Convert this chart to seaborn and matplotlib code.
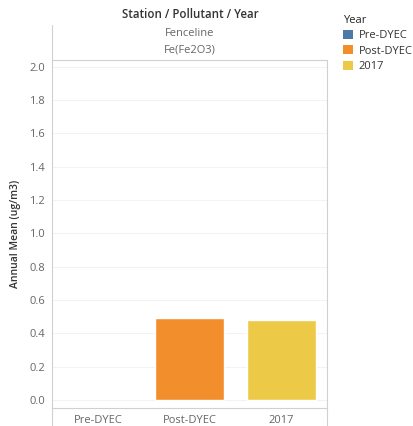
import numpy as np
import pandas as pd
import matplotlib.pyplot as plt
import seaborn as sns
from matplotlib.lines import Line2D
from matplotlib.patches import Patch

#%% DATA
years = ["Pre-DYEC", "Post-DYEC", "2017"]
annual_mean = [np.nan, 0.49, 0.48]
colors = ["#4e79a7", "#f28e2b", "#edc948"]
y_ticks = [0.0, 0.2, 0.4, 0.6, 0.8, 1.0, 1.2, 1.4, 1.6, 1.8, 2.0]

df = pd.DataFrame({"Year": years, "Annual Mean": annual_mean})

#%% PLOT
sns.set_theme(style="white")
plt.rcParams['font.family'] = ['Open Sans', 'DejaVu Sans']

W, H = 414, 426
fig = plt.figure(figsize=(W / 100, H / 100), dpi=100)
ax = fig.add_axes([52 / W, 1 - 408 / H, (327 - 52) / W, (408 - 60) / H])

sns.barplot(data=df, x="Year", y="Annual Mean", hue="Year", order=years,
            hue_order=years, palette=colors, width=0.75, legend=False,
            saturation=1, ax=ax)

ax.set_ylim(-0.048, 2.04)
ax.set_yticks(y_ticks)
ax.set_yticklabels([f"{t:.1f}" for t in y_ticks])
ax.yaxis.grid(True, color="#f3f3f3", linewidth=0.8)
ax.set_axisbelow(True)
ax.tick_params(axis="both", length=0, labelsize=8, labelcolor="#666666", pad=5)
ax.set_xlabel("")
ax.set_ylabel("Annual Mean (ug/m3)", fontsize=7.5, color="#333333", fontweight="semibold")
ax.yaxis.set_label_coords((21 - 52) / 275, 0.5)

for side in ["top", "right"]:
    ax.spines[side].set_visible(False)
ax.spines["left"].set_color("#d0d0d0")
ax.spines["bottom"].set_color("#d0d0d0")
ax.spines["left"].set_linewidth(0.8)
ax.spines["bottom"].set_linewidth(0.8)

# header panes
def fy(y):
    return 1 - y / H

fig.text(190 / W, fy(15), "Station / Pollutant / Year", ha="center", va="center",
         fontsize=8.3, color="#333333", fontweight="semibold")
fig.text(190 / W, fy(33), "Fenceline", ha="center", va="center", fontsize=8, color="#666666")
fig.text(190 / W, fy(50), "Fe(Fe2O3)", ha="center", va="center", fontsize=8, color="#666666")
fig.add_artist(Line2D([52 / W, 327 / W], [fy(60), fy(60)], color="#d0d0d0", lw=0.8))
fig.add_artist(Line2D([52 / W, 52 / W], [fy(25), fy(60)], color="#d0d0d0", lw=0.8))
fig.add_artist(Line2D([327 / W, 327 / W], [fy(60), fy(426)], color="#d0d0d0", lw=0.8))
fig.add_artist(Line2D([52 / W, 52 / W], [fy(408), fy(426)], color="#d0d0d0", lw=0.8))

# legend
handles = [Patch(facecolor=c, edgecolor="none") for c in colors]
leg = fig.legend(handles, years, title="Year", loc="upper left",
                 bbox_to_anchor=(333 / W, fy(5)), frameon=False, fontsize=8,
                 title_fontsize=8, handlelength=0.9, handleheight=0.9,
                 handletextpad=0.5, labelspacing=0.35, alignment="left")
for t in leg.get_texts():
    t.set_color("#333333")

fig.savefig("out.png", dpi=100)
